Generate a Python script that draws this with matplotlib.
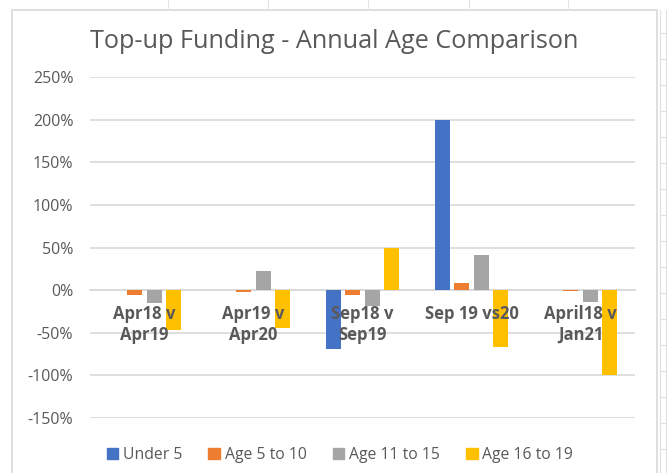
import matplotlib
matplotlib.use("Agg")
import matplotlib.pyplot as plt
import numpy as np
from matplotlib.patches import Rectangle
from matplotlib.lines import Line2D
from matplotlib.ticker import FuncFormatter, MultipleLocator

categories = ["Apr18 v\nApr19", "Apr19 v\nApr20", "Sep18 v\nSep19", "Sep 19 vs20", "April18 v\nJan21"]
series_names = ["Under 5", "Age 5 to 10", "Age 11 to 15", "Age 16 to 19"]
under5 = [0, 0, -69, 200, 0]
age5_10 = [-6, -2, -6, 8, -1]
age11_15 = [-15, 22, -19, 41, -14]
age16_19 = [-47, -44, 50, -67, -100]
series_values = [under5, age5_10, age11_15, age16_19]
colors = ["#4472C4", "#ED7D31", "#A5A5A5", "#FFC000"]

W, H = 667, 473
fig = plt.figure(figsize=(W / 100, H / 100), dpi=100)
fig.patch.set_facecolor("white")

# chart frame and spreadsheet decoration
grid_c = "#D9D9D9"
fig.add_artist(Rectangle((12 / W, -0.05), (657 - 12) / W, (H - 10) / H + 0.05,
                         transform=fig.transFigure, fill=False, edgecolor=grid_c, lw=1.2))
for xv in [168, 268, 368, 469, 568]:
    fig.add_artist(Line2D([xv / W, xv / W], [1 - 10 / H, 1], transform=fig.transFigure, color="#E4E4E4", lw=0.8))
for xv in [660, 666]:
    fig.add_artist(Line2D([xv / W, xv / W], [0, 1 - 10 / H], transform=fig.transFigure, color="#E0E0E0", lw=0.8))
for yv in range(33, H, 26):
    fig.add_artist(Line2D([660 / W, 1], [1 - yv / H, 1 - yv / H], transform=fig.transFigure, color="#E0E0E0", lw=0.8))

left, right, top, bottom = 90, 635, 77, 418
ax = fig.add_axes([left / W, 1 - bottom / H, (right - left) / W, (bottom - top) / H])

x = np.arange(len(categories))
width = 0.14
pitch = 0.179
for i, (name, vals, c) in enumerate(zip(series_names, series_values, colors)):
    ax.bar(x + (i - 1.5) * pitch, vals, width=width, color=c, label=name, zorder=3)

ax.set_xlim(-0.5, len(categories) - 0.5)
ax.set_ylim(-150, 250)
ax.yaxis.set_major_locator(MultipleLocator(50))
ax.yaxis.set_major_formatter(FuncFormatter(lambda v, p: f"{int(v)}%"))
ax.grid(axis="y", color=grid_c, lw=1.2, zorder=0)
ax.set_axisbelow(True)
for s in ["top", "right", "left"]:
    ax.spines[s].set_visible(False)
ax.spines["bottom"].set_position(("data", 0))
ax.spines["bottom"].set_color(grid_c)
ax.spines["bottom"].set_linewidth(1.2)
ax.spines["bottom"].set_zorder(2)
ax.set_xticks(x)
ax.set_xticklabels(categories, fontsize=12, fontweight="bold", color="#595959",
                   family=["Open Sans", "DejaVu Sans"], linespacing=1.15)
ax.tick_params(axis="x", length=0, pad=11)
ax.xaxis.set_zorder(5)
ax.tick_params(axis="y", length=0, pad=12, labelsize=11.5, labelcolor="#595959")
for t in ax.get_yticklabels():
    t.set_family(["Open Sans", "DejaVu Sans"])

fig.text(334.5 / W, 1 - 42 / H, "Top-up Funding - Annual Age Comparison", ha="center", va="center",
         fontsize=18.2, color="#595959", family=["Open Sans", "DejaVu Sans"])

handles = [Rectangle((0, 0), 1, 1, color=c) for c in colors]
fig.legend(handles, series_names, loc="center", bbox_to_anchor=(340 / W, 1 - 455 / H), ncol=4,
           frameon=False, handlelength=0.75, handleheight=0.75, handletextpad=0.3, columnspacing=1.65,
           prop={"family": ["Open Sans", "DejaVu Sans"], "size": 11.3}, labelcolor="#595959")

fig.savefig("out.png", dpi=100)
